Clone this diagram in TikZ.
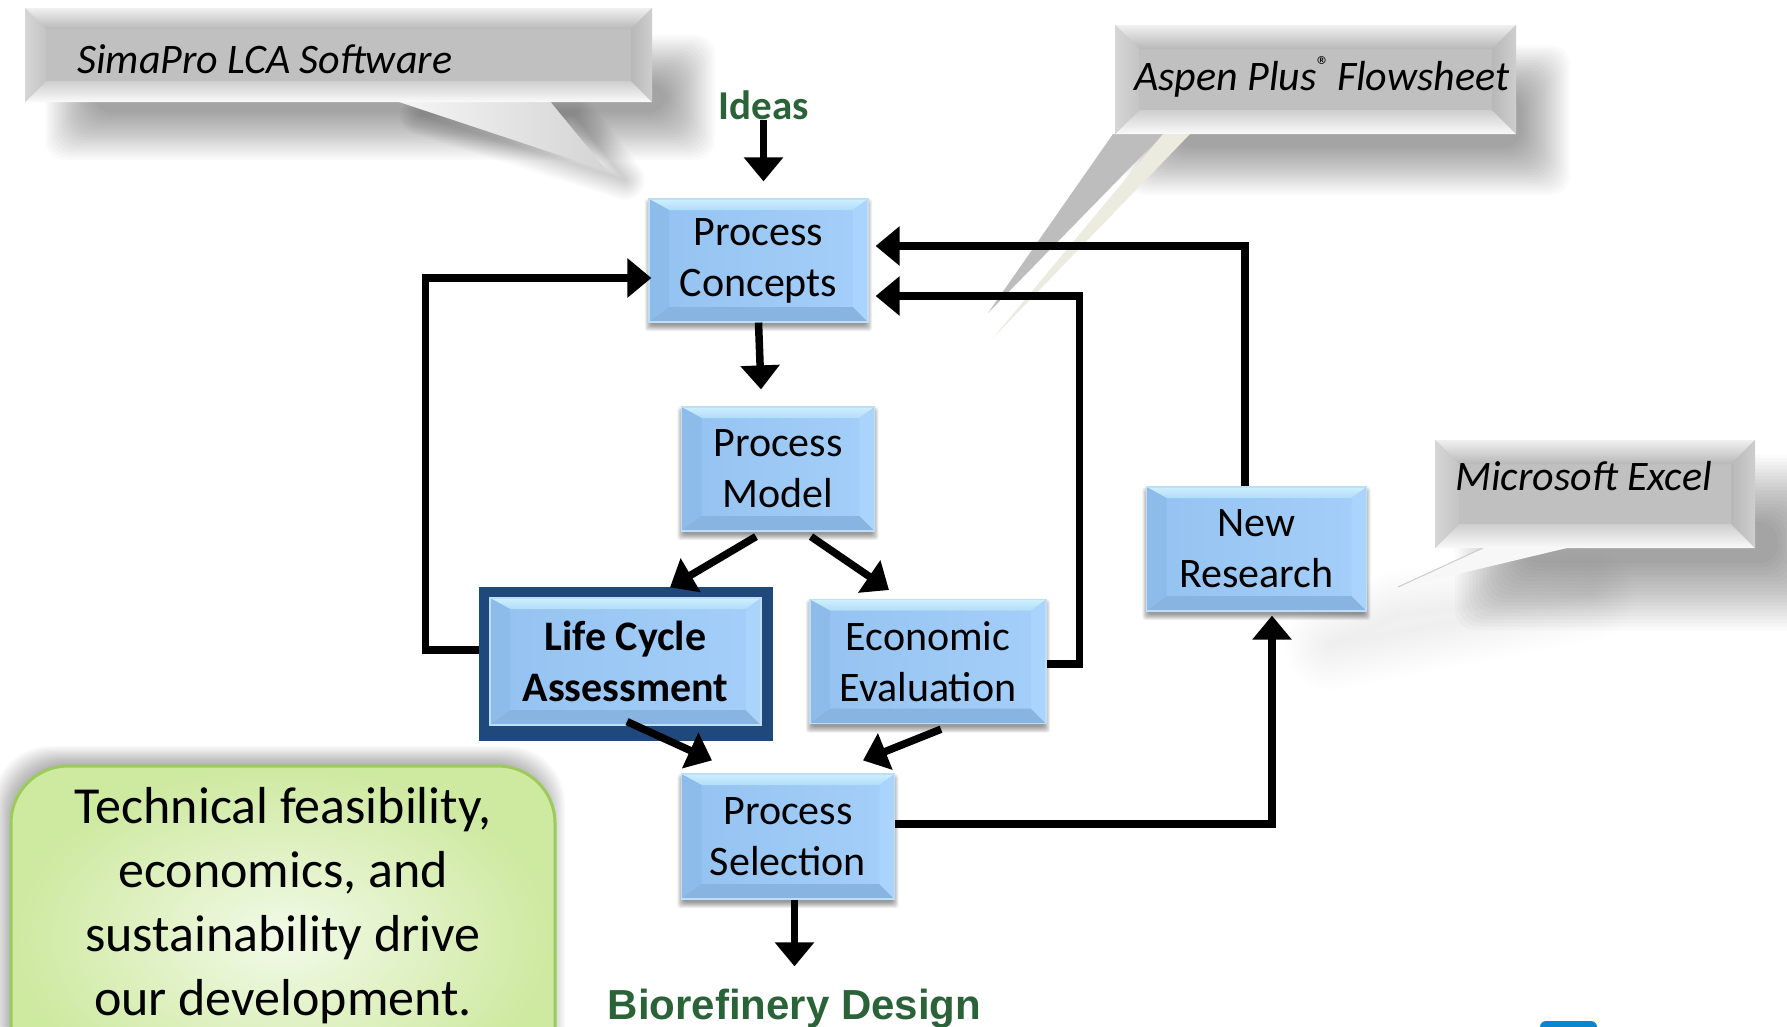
\documentclass[tikz,border=0pt]{standalone}
\usepackage{fontspec}
\setmainfont{Carlito}
\newfontfamily\arialfont{Liberation Sans}
\usetikzlibrary{arrows.meta,calc}
\pgfdeclarelayer{back}
\pgfdeclarelayer{mid}
\pgfsetlayers{back,mid,main}
\definecolor{ideagreen}{RGB}{42,99,56}
\definecolor{bface1}{RGB}{148,194,240}
\definecolor{bface2}{RGB}{165,207,250}
\definecolor{btop1}{RGB}{206,240,254}
\definecolor{btop2}{RGB}{178,220,250}
\definecolor{bleft}{RGB}{141,187,234}
\definecolor{bbot}{RGB}{136,180,225}
\definecolor{bright}{RGB}{170,212,251}
\definecolor{bedge}{RGB}{190,222,246}
\definecolor{navy}{RGB}{31,73,125}
\definecolor{cface}{RGB}{192,192,192}
\definecolor{ctopA}{RGB}{240,240,240}
\definecolor{ctopB}{RGB}{184,184,184}
\definecolor{cbotA}{RGB}{250,250,250}
\definecolor{cbotB}{RGB}{206,206,206}
\definecolor{cleftA}{RGB}{214,214,214}
\definecolor{cleftB}{RGB}{196,196,196}
\definecolor{crightA}{RGB}{206,206,206}
\definecolor{crightB}{RGB}{184,184,184}
\definecolor{ctail}{RGB}{189,189,189}
\definecolor{beige}{RGB}{236,235,224}
\definecolor{tailA}{RGB}{246,246,246}
\definecolor{tailB}{RGB}{212,212,212}
\definecolor{gin}{RGB}{242,250,232}
\definecolor{gout}{RGB}{206,233,160}
\definecolor{gborder}{RGB}{156,203,90}
\definecolor{logoblue}{RGB}{10,134,207}

\newcommand\softshadow[7]{%
  \foreach \k in {0,...,19}{%
    \pgfmathsetmacro\ee{#5*(0.5-\k/20)}%
    \fill[black,opacity=#6,rounded corners=#7] ({#1-(\ee)},{#2-(\ee)}) rectangle ({#3+(\ee)},{#4+(\ee)});
  }}
\newcommand\softpoly[3]{%
  \foreach \k in {1,...,16}{%
    \draw[black,opacity=#2,line join=round,line width={#1*\k/16*1pt}] #3;
  }}
\newcommand\bevelgray[5]{%
  \fill[cface] (#1,#2) rectangle (#3,#4);
  \shade[top color=ctopA,bottom color=ctopB] (#1,#2) -- (#3,#2) -- ({#3-#5},{#2+#5}) -- ({#1+#5},{#2+#5}) -- cycle;
  \shade[top color=cbotB,bottom color=cbotA] (#1,#4) -- (#3,#4) -- ({#3-#5},{#4-#5}) -- ({#1+#5},{#4-#5}) -- cycle;
  \shade[left color=cleftA,right color=cleftB] (#1,#2) -- ({#1+#5},{#2+#5}) -- ({#1+#5},{#4-#5}) -- (#1,#4) -- cycle;
  \shade[left color=crightB,right color=crightA] (#3,#2) -- ({#3-#5},{#2+#5}) -- ({#3-#5},{#4-#5}) -- (#3,#4) -- cycle;
}
\newcommand\boxshadow[1]{%
  \foreach \k in {0,...,7}{%
    \pgfmathsetmacro\ee{7*(0.5-\k/8)}%
    \fill[black,opacity=0.06,rounded corners=3pt] ($(#1.north west)+({0-(\ee)},{4-(\ee)})$) rectangle ($(#1.south east)+({\ee},{5+(\ee)})$);
  }}

\tikzset{
  bluebox/.style={draw=bedge, line width=1.2pt, fill=bface1, align=center, inner sep=0pt,
    font=\fontsize{42}{51}\selectfont,
    path picture={
      \coordinate (NW) at (path picture bounding box.north west);
      \coordinate (NE) at (path picture bounding box.north east);
      \coordinate (SW) at (path picture bounding box.south west);
      \coordinate (SE) at (path picture bounding box.south east);
      \shade[left color=bface1,right color=bface2] (NW) rectangle (SE);
      \shade[top color=btop1,bottom color=btop2] (NW) -- (NE) -- ($(NE)+(-15,11)$) -- ($(NW)+(20,11)$) -- cycle;
      \fill[bleft] (NW) -- ($(NW)+(20,11)$) -- ($(SW)+(20,-15)$) -- (SW) -- cycle;
      \fill[bbot] (SW) -- ($(SW)+(20,-15)$) -- ($(SE)+(-15,-15)$) -- (SE) -- cycle;
      \fill[bright] (NE) -- ($(NE)+(-15,11)$) -- ($(SE)+(-15,-15)$) -- (SE) -- cycle;
    }},
  arr/.style={line width=7.5pt,-{Triangle[width=38pt,length=24pt]}},
  ctext/.style={font=\itshape\fontsize{42}{50}\selectfont, inner sep=0pt, anchor=base west},
}

\begin{document}
\begin{tikzpicture}[x=1pt,y=-1pt]
\useasboundingbox (0,0) rectangle (1787,1026);
\clip (0,0) rectangle (1787,1026);
\begin{pgfonlayer}{back}
  \fill[white] (0,0) rectangle (1787,1026);
\end{pgfonlayer}

% SimaPro callout
\softshadow{70}{60}{690}{135}{50}{0.02}{20pt}
\softpoly{40}{0.01}{(420,115) -- (575,115) -- (625,180) -- cycle}
\shade[left color=tailA,right color=tailB] (393,100) -- (549,100) -- (607,171) -- cycle;
\bevelgray{25}{8}{652}{102}{21}
\node[ctext] (simapro) at (77,73) {SimaPro LCA Software};

% Aspen callout
\softshadow{1150}{70}{1545}{170}{50}{0.02}{20pt}
\fill[ctail] (1113,134) -- (1163,134) -- (988,313) -- cycle;
\fill[beige] (1163,134) -- (1190,134) -- (993,338) -- cycle;
\bevelgray{1115}{25}{1516}{134}{24}
\node[ctext] (aspen) at (1134,90) {Aspen Plus\raisebox{16pt}{\fontsize{26}{26}\selectfont\upshape\char"00AE}\,Flowsheet};

% Excel callout
\softshadow{1490}{490}{1810}{595}{70}{0.018}{20pt}
\softpoly{90}{0.005}{(1400,615) -- (1590,595) -- (1330,645) -- cycle}
\fill[white!97!black] (1483,548) -- (1567,548) -- (1395,589) -- cycle;
\draw[white!80!black, line width=1pt] (1483,548) -- (1398,587);
\bevelgray{1435}{440}{1755}{548}{24}
\node[ctext] (excel) at (1455,490) {Microsoft Excel};

% green note
\softshadow{5}{758}{553}{1100}{24}{0.02}{57pt}
\shadedraw[inner color=gin,outer color=gout,draw=gborder,line width=3pt,rounded corners=57pt] (11,766) rectangle (555,1110);
\node[font=\fontsize{52}{64}\selectfont, align=center, inner sep=0pt] (note) at (283,906)
  {Technical feasibility,\\economics, and\\sustainability drive\\our development.};

% process boxes
\node[bluebox, minimum width=219pt, minimum height=123pt] (pc) at (758.5,260.5) {Process\\Concepts};
\node[bluebox, minimum width=193pt, minimum height=124pt] (pm) at (778,469) {Process\\Model};
\node[bluebox, minimum width=271pt, minimum height=127pt, font=\bfseries\fontsize{42}{51}\selectfont] (lca) at (625.5,661.5) {Life Cycle\\Assessment};
\node[bluebox, minimum width=236pt, minimum height=124pt] (ee) at (928,661.6) {Economic\\Evaluation};
\node[bluebox, minimum width=220pt, minimum height=124pt] (nr) at (1256.5,549) {New\\Research};
\node[bluebox, minimum width=213pt, minimum height=125pt] (ps) at (788,836.5) {Process\\Selection};

\node[font=\bfseries\fontsize{41}{48}\selectfont, text=ideagreen, inner sep=0pt, anchor=base] (ideas) at (763.5,119) {Ideas};
\node[font=\arialfont\bfseries\fontsize{42}{50}\selectfont, text=ideagreen, inner sep=0pt, anchor=base] (bio) at (794.5,1019) {Biorefinery Design};

\begin{pgfonlayer}{mid}
  \boxshadow{pc}\boxshadow{pm}\boxshadow{ee}\boxshadow{nr}\boxshadow{ps}
  \fill[navy] ($(lca.north west)+(-10,-10)$) rectangle ($(lca.south east)+(11,15)$);
\end{pgfonlayer}

% connectors
\draw[arr, shorten >=17pt] (ideas.south) -- (ideas.south |- pc.north);
\draw[arr] (pc.south) -- ([xshift=-17pt,yshift=17pt]pm.north);
\draw[arr] ([xshift=-22pt,yshift=-5pt]pm.south) -- ([xshift=44.5pt,yshift=10pt]lca.north);
\draw[arr] ([xshift=33pt,yshift=-5pt]pm.south) -- ([xshift=-39pt,yshift=9pt]ee.north);
\draw[arr] ([xshift=1.5pt,yshift=4pt]lca.south) -- ([xshift=-76pt,yshift=13pt]ps.north);
\draw[arr] ([xshift=13pt,yshift=-5pt]ee.south) -- ([xshift=75pt,yshift=13pt]ps.north);
\draw[arr] ([yshift=12.5pt]ps.east) -| ([xshift=15.5pt,yshift=-4pt]nr.south);
\draw[arr] ([xshift=-11.5pt]nr.north) |- ([xshift=7pt,yshift=14.5pt]pc.east);
\draw[arr] ([yshift=-2.5pt]ee.east) -- ++(33,0) |- ([xshift=7pt,yshift=-35.5pt]pc.east);
\draw[arr] ([xshift=-10pt,yshift=11.5pt]lca.west) -- ++(-54,0) |- ([xshift=3pt,yshift=-17.5pt]pc.west);
\draw[arr, shorten >=22pt] (bio.north |- ps.south) -- (bio.north);

% cut-off logo fragment
\fill[logoblue, rounded corners=6pt] (1540,1021) rectangle (1597,1040);
\end{tikzpicture}
\end{document}
